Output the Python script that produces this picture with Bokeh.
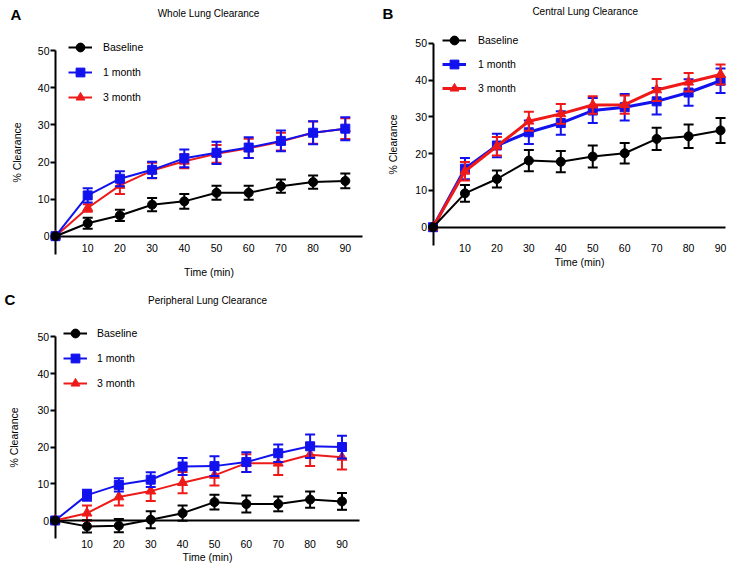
from bokeh.plotting import figure
from bokeh.models import Range1d, FixedTicker, Label, Legend, LegendItem, ColumnDataSource
from bokeh.layouts import column, row
from bokeh.embed import file_html
from bokeh.resources import INLINE

# ---------------- data ----------------
time_min = [0, 10, 20, 30, 40, 50, 60, 70, 80, 90]
x_ticks = [10, 20, 30, 40, 50, 60, 70, 80, 90]
y_ticks = [0, 10, 20, 30, 40, 50]
series_names = ["Baseline", "1 month", "3 month"]

whole_baseline = [0, 3.5, 5.6, 8.5, 9.4, 11.7, 11.7, 13.5, 14.6, 14.9]
whole_baseline_sem = [0, 1.5, 1.5, 1.8, 2.0, 1.9, 1.9, 1.8, 1.8, 2.0]
whole_1m = [0, 11.0, 15.5, 17.9, 21.0, 22.5, 23.9, 25.7, 27.9, 29.0]
whole_1m_sem = [0, 1.9, 2.0, 2.2, 2.4, 3.0, 2.8, 2.8, 3.1, 3.1]
whole_3m = [0, 7.6, 13.7, 17.7, 20.2, 22.2, 23.7, 25.5, 27.9, 29.0]
whole_3m_sem = [0, 1.0, 2.3, 2.1, 1.9, 2.4, 2.6, 2.4, 3.0, 2.8]

central_baseline = [0, 9.2, 13.1, 18.1, 17.8, 19.2, 20.1, 24.0, 24.7, 26.3]
central_baseline_sem = [0, 2.3, 2.3, 2.9, 2.9, 3.0, 2.8, 3.0, 3.2, 3.4]
central_1m = [0, 15.9, 22.2, 25.8, 28.3, 31.7, 32.6, 34.2, 36.6, 39.8]
central_1m_sem = [0, 2.9, 3.2, 3.2, 3.2, 3.4, 3.6, 3.6, 3.6, 3.3]
central_3m = [0, 15.2, 22.0, 28.8, 30.8, 33.2, 33.3, 37.3, 39.4, 41.5]
central_3m_sem = [0, 2.5, 2.5, 2.6, 2.7, 2.4, 2.5, 3.0, 2.5, 2.7]

peripheral_baseline = [0, -1.6, -1.4, 0.2, 2.0, 5.0, 4.5, 4.5, 5.7, 5.2]
peripheral_baseline_sem = [0, 1.7, 1.8, 2.3, 2.1, 2.0, 2.3, 2.0, 2.2, 2.3]
peripheral_1m = [0, 6.9, 9.7, 11.1, 14.7, 14.8, 15.9, 18.3, 20.2, 20.0]
peripheral_1m_sem = [0, 1.5, 1.8, 2.0, 2.3, 2.7, 2.7, 2.4, 3.2, 3.1]
peripheral_3m = [0, 2.0, 6.4, 8.0, 10.3, 12.3, 15.6, 15.6, 17.9, 17.2]
peripheral_3m_sem = [0, 2.1, 2.3, 2.7, 2.9, 2.8, 2.4, 3.2, 3.1, 3.3]

# ---------------- style ----------------
FONT = "Liberation Sans"
COLORS = {"Baseline": "#000000", "1 month": "#1212ee", "3 month": "#ee1a1a"}
MARKERS = {"Baseline": "circle", "1 month": "square", "3 month": "triangle"}
MSIZE = {"Baseline": 9, "1 month": 9, "3 month": 10}


def style_axis(ax, label, standoff, label_standoff):
    ax.level = "underlay"
    ax.axis_line_color = "black"
    ax.axis_line_width = 2
    ax.minor_tick_line_color = None
    ax.major_label_standoff = standoff
    ax.major_label_text_font = FONT
    ax.major_label_text_font_size = "10.5px"
    ax.major_label_text_color = "black"
    ax.axis_label = label
    ax.axis_label_text_font = FONT
    ax.axis_label_text_font_size = "10.5px"
    ax.axis_label_text_font_style = "normal"
    ax.axis_label_text_color = "black"
    ax.axis_label_standoff = label_standoff


def make_panel(letter, title, series, cfg):
    W, H = cfg["W"], cfg["H"]
    ox, oy, sx, sy = cfg["ox"], cfg["oy"], cfg["sx"], cfg["sy"]   # pixel origin and scale
    p = figure(width=W, height=H,
               x_range=Range1d(-ox / sx, (W - ox) / sx),
               y_range=Range1d((oy - H) / sy, oy / sy),
               output_backend="svg", toolbar_location=None, min_border=0)
    p.title.visible = False
    p.outline_line_color = None
    p.grid.visible = False
    p.background_fill_color = "white"
    p.border_fill_color = "white"

    # y axis drawn at x = 0
    ya = p.yaxis[0]
    ya.fixed_location = 0
    ya.bounds = (-5, 50)
    ya.ticker = FixedTicker(ticks=y_ticks)
    ya.major_tick_out = 5
    ya.major_tick_in = 0
    ya.major_tick_line_width = 2
    ya.major_tick_line_color = "black"
    style_axis(ya, "% Clearance", 1, cfg["yals"])

    # x axis drawn at y = 0
    xa = p.xaxis[0]
    xa.fixed_location = 0
    xa.bounds = (0, cfg["xend"])
    xa.ticker = FixedTicker(ticks=x_ticks)
    xa.major_tick_line_color = None
    xa.major_tick_out = 0
    xa.major_tick_in = 0
    style_axis(xa, "Time (min)", cfg["xstand"], cfg["xals"])

    renderers = {}
    for name in cfg["order"]:
        vals, sem = series[name]
        col = COLORS[name]
        xs = [t for t, s in zip(time_min, sem) if s > 0]
        lo = [v - s for v, s in zip(vals, sem) if s > 0]
        hi = [v + s for v, s in zip(vals, sem) if s > 0]
        eb = ColumnDataSource(dict(x=xs, lo=lo, hi=hi))
        p.segment(x0="x", y0="lo", x1="x", y1="hi", source=eb, line_color=col, line_width=2)
        p.scatter(x="x", y="lo", source=eb, marker="dash", size=10, line_color=col, line_width=2)
        p.scatter(x="x", y="hi", source=eb, marker="dash", size=10, line_color=col, line_width=2)
        lr = p.line(time_min, vals, line_color=col, line_width=cfg["lw"][name])
        mr = p.scatter(time_min, vals, marker=MARKERS[name], size=MSIZE[name],
                       fill_color=col, line_color=col)
        renderers[name] = [lr, mr]

    items = [LegendItem(label=n, renderers=renderers[n]) for n in series_names]
    leg = Legend(items=items, location=cfg["legloc"], padding=0, margin=0,
                 border_line_color=None, background_fill_alpha=0,
                 glyph_width=24, glyph_height=22, label_height=22,
                 spacing=cfg["legsp"], label_standoff=cfg["legstand"],
                 label_text_font=FONT, label_text_font_size="10.5px",
                 label_text_color="black")
    p.add_layout(leg, "center")

    # panel title and panel letter (positions in pixels of this panel)
    tx, ty = cfg["title_px"]
    p.add_layout(Label(x=(tx - ox) / sx, y=(oy - ty) / sy, text=title,
                       text_font=FONT, text_font_size="10px", text_color="black",
                       text_align="center", text_baseline="middle"))
    lx, ly = cfg["letter_px"]
    p.add_layout(Label(x=(lx - ox) / sx, y=(oy - ly) / sy, text=letter,
                       text_font=FONT, text_font_size="15px", text_font_style="bold",
                       text_color="black", text_align="left", text_baseline="top"))
    return p


pA = make_panel("A", "Whole Lung Clearance",
                {"Baseline": (whole_baseline, whole_baseline_sem),
                 "1 month": (whole_1m, whole_1m_sem),
                 "3 month": (whole_3m, whole_3m_sem)},
                dict(W=372, H=288, ox=55.0, oy=235.7, sx=3.22, sy=3.708, xend=95.3,
                     yals=12, xstand=8, xals=10,
                     order=["3 month", "1 month", "Baseline"],
                     lw={"Baseline": 2, "1 month": 2, "3 month": 2},
                     legloc=(68, 180), legsp=3, legstand=11,
                     title_px=(208, 13), letter_px=(10, 5)))

pB = make_panel("B", "Central Lung Clearance",
                {"Baseline": (central_baseline, central_baseline_sem),
                 "1 month": (central_1m, central_1m_sem),
                 "3 month": (central_3m, central_3m_sem)},
                dict(W=365, H=288, ox=60.5, oy=226.7, sx=3.195, sy=3.68, xend=91.5,
                     yals=14, xstand=17, xals=0,
                     order=["1 month", "3 month", "Baseline"],
                     lw={"Baseline": 2, "1 month": 3, "3 month": 3},
                     legloc=(70, 189), legsp=2, legstand=12,
                     title_px=(212.7, 11), letter_px=(10, 4.5)))

pC = make_panel("C", "Peripheral Lung Clearance",
                {"Baseline": (peripheral_baseline, peripheral_baseline_sem),
                 "1 month": (peripheral_1m, peripheral_1m_sem),
                 "3 month": (peripheral_3m, peripheral_3m_sem)},
                dict(W=372, H=277, ox=54.6, oy=232.0, sx=3.1875, sy=3.674, xend=95.5,
                     yals=15, xstand=19, xals=0,
                     order=["3 month", "1 month", "Baseline"],
                     lw={"Baseline": 2, "1 month": 2, "3 month": 2},
                     legloc=(63, 171), legsp=3, legstand=10,
                     title_px=(207, 12), letter_px=(4, 2.5)))

layout = column(row(pA, pB), pC)
open("out.html", "w").write(file_html(layout, INLINE))
